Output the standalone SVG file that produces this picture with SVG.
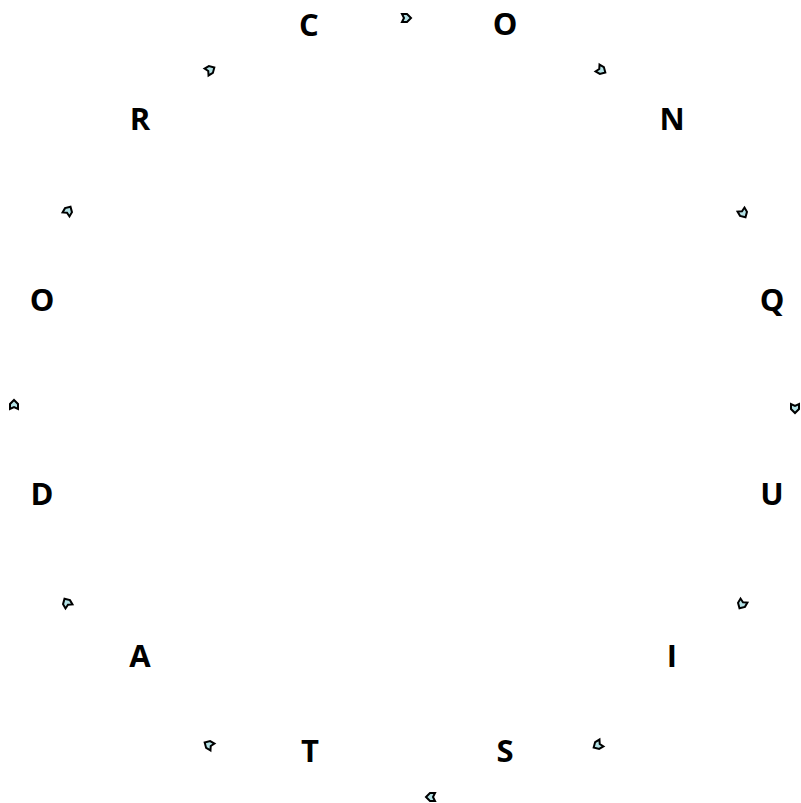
<svg xmlns="http://www.w3.org/2000/svg" xmlns:xlink="http://www.w3.org/1999/xlink" width="801" height="803" viewBox="0 0 801 803">
<style>
.lbl{font-family:"Open Sans","DejaVu Sans",sans-serif;font-weight:bold;font-size:31px;fill:#000;text-anchor:middle;dominant-baseline:central}
.ah{fill:#b4e2e6;stroke:#000;stroke-width:2;stroke-linejoin:miter}
</style>
<defs>
<path id="arr" class="ah" d="M-4,-4 L1,-4 L5,0 L1,4 L-4,4 L-2,0 Z"/>
</defs>
<rect width="801" height="803" fill="#fff"/>
<g id="connectors">
<use xlink:href="#arr" transform="translate(406,18) rotate(0)"/>
<use xlink:href="#arr" transform="translate(601,70) rotate(30)"/>
<use xlink:href="#arr" transform="translate(743,213) rotate(60)"/>
<use xlink:href="#arr" transform="translate(795,408) rotate(90)"/>
<use xlink:href="#arr" transform="translate(742,604) rotate(120)"/>
<use xlink:href="#arr" transform="translate(598,745) rotate(150)"/>
<use xlink:href="#arr" transform="translate(431,797) rotate(180)"/>
<use xlink:href="#arr" transform="translate(209,745) rotate(210)"/>
<use xlink:href="#arr" transform="translate(67,603) rotate(240)"/>
<use xlink:href="#arr" transform="translate(14,405) rotate(270)"/>
<use xlink:href="#arr" transform="translate(68,211) rotate(300)"/>
<use xlink:href="#arr" transform="translate(210,70) rotate(330)"/>
</g>
<g id="n1"><text class="lbl" x="309" y="24">C</text></g>
<g id="n2"><text class="lbl" x="505" y="23">O</text></g>
<g id="n3"><text class="lbl" x="672" y="118">N</text></g>
<g id="n4"><text class="lbl" x="772" y="299">Q</text></g>
<g id="n5"><text class="lbl" x="772" y="493">U</text></g>
<g id="n6"><text class="lbl" x="672" y="655">I</text></g>
<g id="n7"><text class="lbl" x="505" y="750">S</text></g>
<g id="n8"><text class="lbl" x="310" y="750">T</text></g>
<g id="n9"><text class="lbl" x="140" y="655">A</text></g>
<g id="n10"><text class="lbl" x="42" y="493">D</text></g>
<g id="n11"><text class="lbl" x="42" y="299">O</text></g>
<g id="n12"><text class="lbl" x="140" y="118">R</text></g>
</svg>
